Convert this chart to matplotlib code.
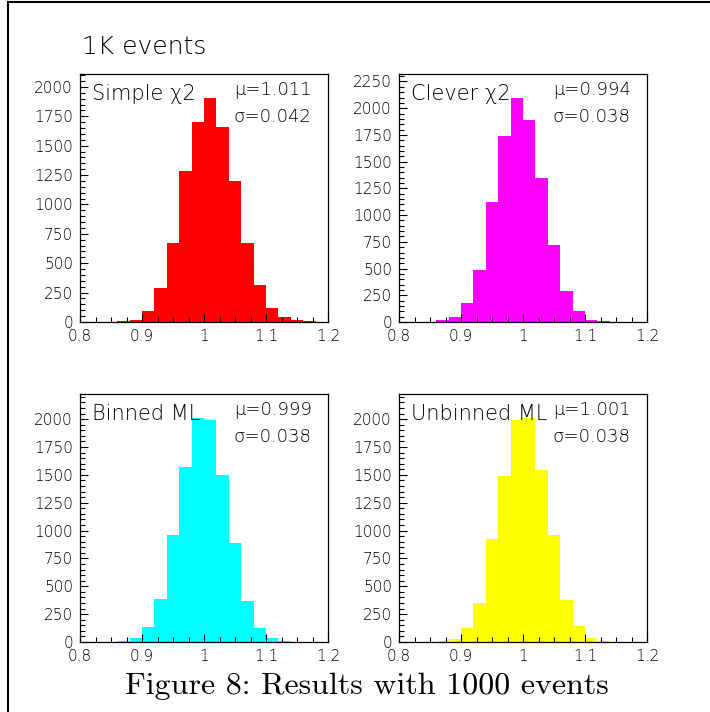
import matplotlib
matplotlib.use("Agg")
import matplotlib.pyplot as plt
from matplotlib.ticker import MultipleLocator
from matplotlib.lines import Line2D
import numpy as np

# 20 bins of width 0.02 between 0.8 and 1.2
bin_edges = np.linspace(0.8, 1.2, 21)

simple_chi2 = [0, 0, 2, 8, 20, 94, 293, 676, 1284, 1699,
               1906, 1656, 1199, 668, 315, 116, 40, 14, 5, 0]
clever_chi2 = [0, 0, 2, 19, 44, 181, 489, 1119, 1743, 2098,
               1886, 1344, 720, 290, 103, 22, 9, 2, 0, 0]
binned_ml = [0, 0, 1, 9, 36, 138, 389, 957, 1573, 2010,
             1989, 1495, 891, 368, 129, 39, 6, 1, 0, 0]
unbinned_ml = [0, 0, 1, 9, 30, 129, 347, 924, 1489, 1995,
               2010, 1540, 963, 380, 141, 39, 9, 1, 0, 0]

names = ["Simple χ2", "Clever χ2", "Binned ML", "Unbinned ML"]
means = ["1.011", "0.994", "0.999", "1.001"]
sigmas = ["0.042", "0.038", "0.038", "0.038"]
colors = ["#ff0000", "#ff00ff", "#00ffff", "#ffff00"]
ymax = [2110, 2320, 2225, 2225]
counts = [simple_chi2, clever_chi2, binned_ml, unbinned_ml]

W, H = 710, 712
fig = plt.figure(figsize=(W / 100, H / 100), dpi=100)
FONT = "DejaVu Sans"
WEIGHT = "light"

# outer frame lines (left and top)
fig.add_artist(Line2D([8 / W, 8 / W], [0, 1 - 2 / H], color="black", lw=1.5,
                      transform=fig.transFigure))
fig.add_artist(Line2D([8 / W, 1], [1 - 2 / H, 1 - 2 / H], color="black", lw=1.5,
                      transform=fig.transFigure))

fig.text(82 / W, 1 - 47 / H, "1K events", fontsize=18, family=FONT,
         fontweight=WEIGHT, va="center", ha="left")

# axes boxes in pixels: left, top
boxes = [(80, 74), (399, 74), (80, 394), (399, 394)]
size = 248

for i, (x0, y0) in enumerate(boxes):
    ax = fig.add_axes([x0 / W, 1 - (y0 + size) / H, size / W, size / H])
    ax.hist(bin_edges[:-1], bins=bin_edges, weights=counts[i],
            color=colors[i], histtype="stepfilled", linewidth=0)
    ax.set_xlim(0.8, 1.2)
    ax.set_ylim(0, ymax[i])
    ax.xaxis.set_minor_locator(MultipleLocator(0.025))
    ax.yaxis.set_major_locator(MultipleLocator(250))
    ax.yaxis.set_minor_locator(MultipleLocator(50))
    ax.set_xticks([0.8, 0.9, 1.0, 1.1, 1.2])
    ax.set_xticklabels(["0.8", "0.9", "1", "1.1", "1.2"])
    ax.tick_params(which="both", direction="in", top=False, right=False,
                   labelsize=11, width=0.8, colors="black")
    ax.tick_params(which="major", length=6)
    ax.tick_params(which="minor", length=3.5)
    ax.tick_params(axis="x", which="major", pad=5)
    ax.tick_params(axis="y", which="major", pad=5)
    for lab in ax.get_xticklabels() + ax.get_yticklabels():
        lab.set_family(FONT)
        lab.set_fontweight(WEIGHT)
    for sp in ax.spines.values():
        sp.set_linewidth(0.9)
    ax.set_zorder(1)

    ax.text(0.05, 0.92, names[i], transform=ax.transAxes, fontsize=15,
            family=FONT, fontweight=WEIGHT, ha="left", va="center")
    ax.text(0.62, 0.935, "μ=" + means[i], transform=ax.transAxes, fontsize=13,
            family=FONT, fontweight=WEIGHT, ha="left", va="center")
    ax.text(0.62, 0.825, "σ=" + sigmas[i], transform=ax.transAxes, fontsize=13,
            family=FONT, fontweight=WEIGHT, ha="left", va="center")

fig.text(367 / W, 1 - 686 / H, "Figure 8: Results with 1000 events",
         family="cmr10", fontsize=23, ha="center", va="center")

fig.savefig("out.png", dpi=100)
